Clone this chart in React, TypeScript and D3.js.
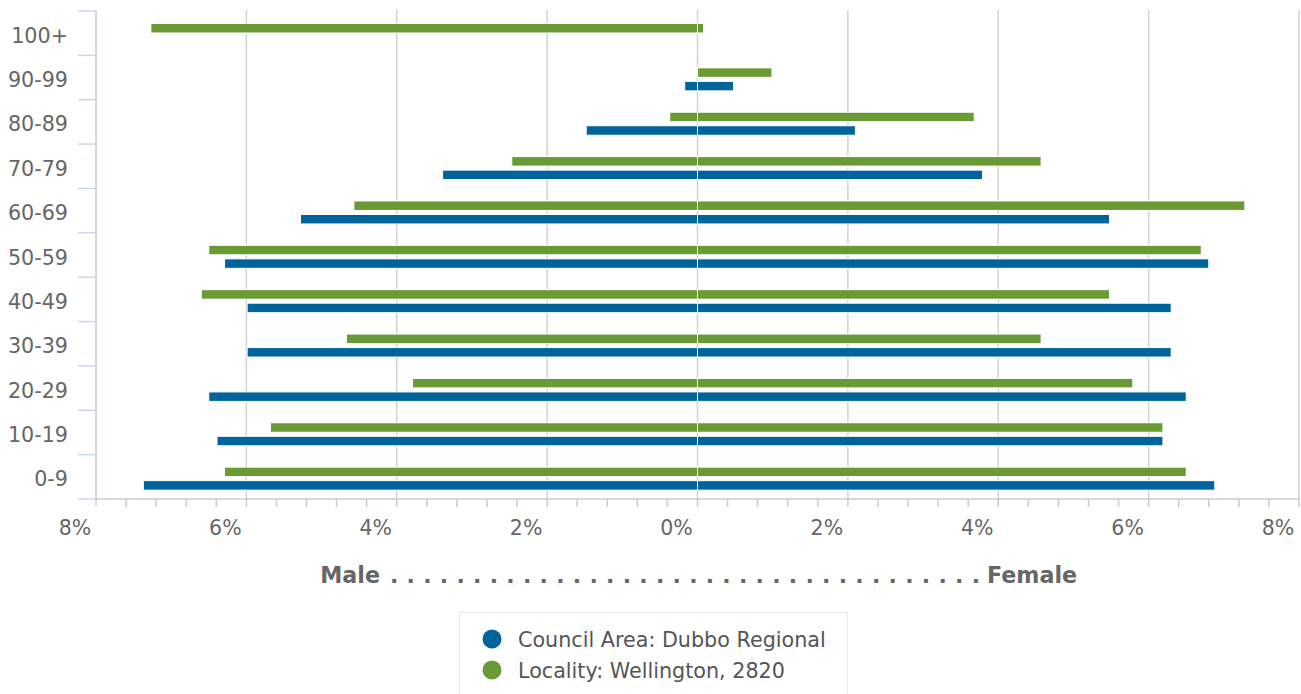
import * as d3 from "d3";

const AGE_GROUPS = ["100+", "90-99", "80-89", "70-79", "60-69", "50-59", "40-49", "30-39", "20-29", "10-19", "0-9"];

// percentages
const councilMale = [0, 0.17, 1.48, 3.39, 5.28, 6.29, 5.99, 5.99, 6.5, 6.39, 7.37];
const councilFemale = [0, 0.48, 2.1, 3.79, 5.48, 6.8, 6.3, 6.3, 6.5, 6.19, 6.88];
const localityMale = [7.27, 0, 0.37, 2.47, 4.57, 6.5, 6.6, 4.67, 3.79, 5.68, 6.29];
const localityFemale = [0.08, 0.99, 3.68, 4.57, 7.28, 6.7, 5.48, 4.57, 5.79, 6.19, 6.5];

const SERIES = [
  { key: "locality", label: "Locality: Wellington, 2820", color: "#699a35", male: localityMale, female: localityFemale },
  { key: "council", label: "Council Area: Dubbo Regional", color: "#00649c", male: councilMale, female: councilFemale },
];
const LEGEND_ORDER = ["council", "locality"];

const X_TICKS = [-8, -6, -4, -2, 0, 2, 4, 6, 8];

const W = 1301;
const H = 694;
const FONT = "'DejaVu Sans', Verdana, sans-serif";

export default function App() {
  const x = d3.scaleLinear().domain([-8, 8]).range([96, 1299]);
  const y = d3.scaleBand().domain(AGE_GROUPS).range([11, 499]).paddingInner(0).paddingOuter(0);
  const sub = d3.scaleBand().domain(SERIES.map((s) => s.key)).range([12.5, 35.5]).paddingInner(0.3).paddingOuter(0);

  const plotTop = 10;
  const plotBottom = 499;
  const minorTicks = d3.range(-8, 8.001, 0.4);
  const yTicks = d3.range(AGE_GROUPS.length + 1).map((i) => 11 + i * y.step());

  const dots = Array.from({ length: 36 }, () => ".").join(" ");

  return (
    <div style={{ position: "absolute", left: 0, top: 0 }}>
      <svg width={W} height={H} style={{ display: "block", fontFamily: FONT }}>
        <rect width={W} height={H} fill="#fff" />

        {/* grid */}
        {X_TICKS.map((t) => (
          <line key={"g" + t} x1={x(t)} x2={x(t)} y1={plotTop} y2={plotBottom} stroke="#d3d3d3" strokeWidth={1.5} />
        ))}

        {/* bars */}
        {SERIES.map((s) =>
          AGE_GROUPS.map((g, i) => {
            const yy = (y(g) ?? 0) + (sub(s.key) ?? 0);
            const h = sub.bandwidth();
            const m = s.male[i];
            const f = s.female[i];
            return (
              <g key={s.key + g}>
                {m > 0 && (
                  <rect x={x(-m)} y={yy} width={x(0) - x(-m)} height={h} fill={s.color} stroke="#fff" strokeWidth={1} />
                )}
                {f > 0 && (
                  <rect x={x(0)} y={yy} width={x(f) - x(0)} height={h} fill={s.color} stroke="#fff" strokeWidth={1} />
                )}
              </g>
            );
          })
        )}

        {/* left axis */}
        <line x1={96} x2={96} y1={plotTop} y2={plotBottom} stroke="#ccd6eb" strokeWidth={1.5} />
        {yTicks.map((t, i) => (
          <line key={"yt" + i} x1={78} x2={96} y1={t} y2={t} stroke="#ccd6eb" strokeWidth={1.5} />
        ))}
        {AGE_GROUPS.map((g) => (
          <text key={"yl" + g} x={68} y={(y(g) ?? 0) + y.bandwidth() / 2 + 9.5} textAnchor="end" fontSize={20.7} fill="#666">
            {g}
          </text>
        ))}

        {/* bottom axis */}
        <line x1={96} x2={1300} y1={plotBottom} y2={plotBottom} stroke="#ccc" strokeWidth={1.5} />
        {minorTicks.map((t, i) => (
          <line key={"mt" + i} x1={x(t)} x2={x(t)} y1={plotBottom} y2={plotBottom + 8} stroke="#ccc" strokeWidth={1.5} />
        ))}
        {X_TICKS.map((t) => (
          <text key={"xl" + t} x={x(t) - 21} y={535} textAnchor="middle" fontSize={20.5} fill="#666">
            {d3.format("d")(Math.abs(t)) + "%"}
          </text>
        ))}

        {/* axis title */}
        <text x={380} y={583} textAnchor="end" fontSize={22.2} fontWeight="bold" fill="#666">
          Male
        </text>
        <text x={390} y={583} fontSize={22} fontWeight="bold" fill="#666" textLength={590} lengthAdjust="spacing">
          {dots}
        </text>
        <text x={987} y={583} fontSize={22.2} fontWeight="bold" fill="#666">
          Female
        </text>

        {/* legend */}
        <rect x={459.5} y={612.5} width={388} height={100} fill="#fff" stroke="#e8e8e8" strokeWidth={1} />
        {LEGEND_ORDER.map((k, i) => {
          const s = SERIES.find((d) => d.key === k)!;
          const cy = 639 + i * 31;
          return (
            <g key={"lg" + k}>
              <circle cx={492} cy={cy} r={9.5} fill={s.color} />
              <text x={518} y={cy + 7.5} fontSize={20.7} fill="#555">
                {s.label}
              </text>
            </g>
          );
        })}
      </svg>
    </div>
  );
}
